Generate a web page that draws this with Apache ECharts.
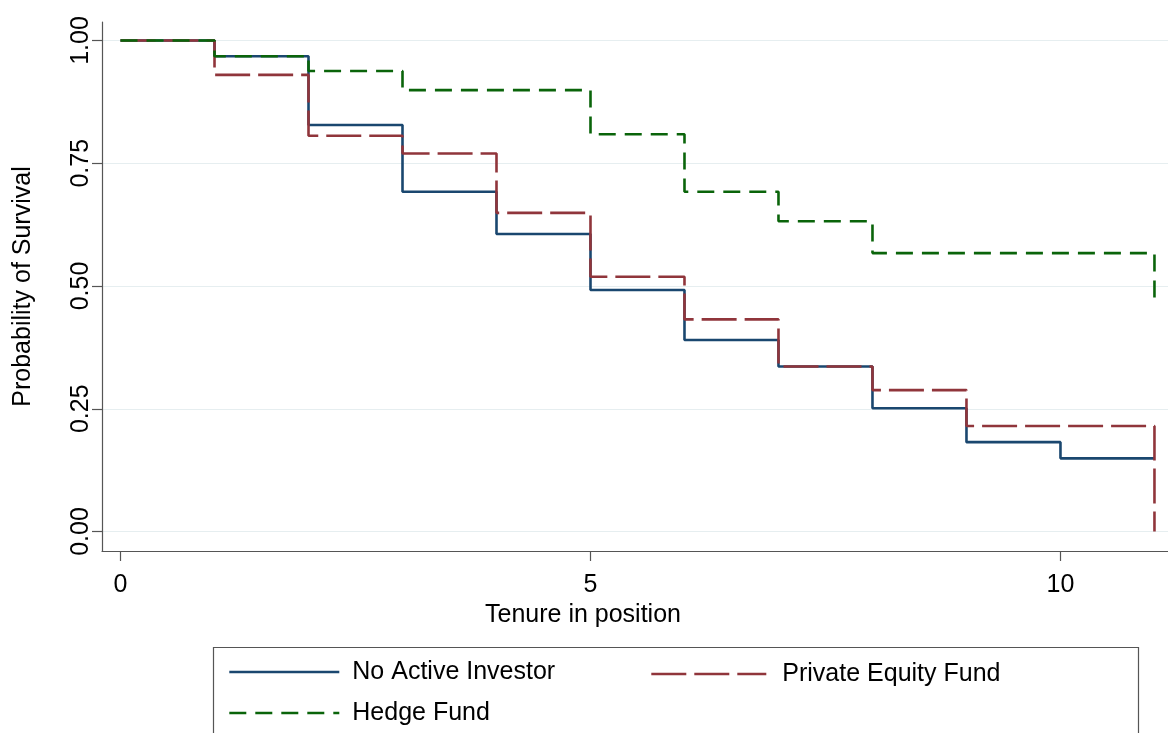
<!DOCTYPE html>
<html>
<head>
<meta charset="utf-8">
<script src="https://cdn.jsdelivr.net/npm/echarts@6/dist/echarts.min.js"></script>
<style>
html,body{margin:0;padding:0;background:#fff;}
#chart{width:1168px;height:733px;}
</style>
</head>
<body>
<div id="chart"></div>
<script>
// Kaplan-Meier step data (tenure in years, survival probability)
const noActiveTime = [0, 1, 2, 3, 4, 5, 6, 7, 8, 9, 10, 11];
const noActiveSurv = [1.00, 0.968, 0.828, 0.692, 0.606, 0.492, 0.390, 0.336, 0.251, 0.182, 0.149, 0.149];

const privateEqTime = [0, 1, 2, 3, 4, 5, 6, 7, 8, 9, 11, 11];
const privateEqSurv = [1.00, 0.930, 0.806, 0.770, 0.649, 0.519, 0.432, 0.336, 0.288, 0.215, 0.215, 0.0];

const hedgeTime = [0, 1, 2, 3, 5, 6, 7, 8, 11, 11];
const hedgeSurv = [1.00, 0.968, 0.938, 0.899, 0.809, 0.692, 0.632, 0.567, 0.567, 0.476];

const xTicks = [0, 5, 10];
const yTicks = [0, 0.25, 0.5, 0.75, 1];
const seriesNames = ['No Active Investor', 'Private Equity Fund', 'Hedge Fund'];

const zip = (t, v) => t.map((x, i) => [x, v[i]]);
const FONT = 'Liberation Sans, Arial, sans-serif';

const chart = echarts.init(document.getElementById('chart'), null, {renderer: 'canvas'});
chart.setOption({
  animation: false,
  backgroundColor: '#ffffff',
  grid: {left: 102, top: 22, right: 0, bottom: 182, containLabel: false},
  xAxis: {
    type: 'value', min: -0.197, max: 11.144,
    name: 'Tenure in position', nameLocation: 'middle', nameGap: 44,
    nameTextStyle: {fontFamily: FONT, fontSize: 25, color: '#000', padding: [0, 104, 0, 0]},
    axisLine: {show: true, onZero: false, lineStyle: {color: '#555', width: 1.2}},
    axisTick: {show: true, length: 10, customValues: xTicks, lineStyle: {color: '#555', width: 1.2}},
    axisLabel: {customValues: xTicks, fontFamily: FONT, fontSize: 25, color: '#000', margin: 22},
    splitLine: {show: false}
  },
  yAxis: {
    type: 'value', min: -0.0397, max: 1.0377,
    name: 'Probability of Survival', nameLocation: 'middle', nameGap: 66,
    nameTextStyle: {fontFamily: FONT, fontSize: 25, color: '#000'},
    axisLine: {show: true, onZero: false, lineStyle: {color: '#555', width: 1.2}},
    axisTick: {show: true, length: 10, customValues: yTicks, lineStyle: {color: '#555', width: 1.2}},
    axisLabel: {customValues: yTicks, rotate: 90, fontFamily: FONT, fontSize: 25, color: '#000', margin: 8,
      formatter: v => v.toFixed(2)},
    splitLine: {show: true, lineStyle: {color: '#e6eef0', width: 1.2}}
  },
  legend: [
    {
      data: [seriesNames[0], seriesNames[2]], orient: 'vertical', left: 228, top: 657, padding: 0,
      itemWidth: 110, itemHeight: 14, itemGap: 11,
      itemStyle: {opacity: 0},
      lineStyle: {width: 2.6},
      textStyle: {fontFamily: FONT, fontSize: 25, color: '#000', lineHeight: 30, padding: [0, 0, 0, 8]}
    },
    {
      data: [seriesNames[1]], orient: 'vertical', left: 650, top: 659, padding: 0,
      itemWidth: 115, itemHeight: 14,
      itemStyle: {opacity: 0},
      lineStyle: {width: 2.6},
      textStyle: {fontFamily: FONT, fontSize: 25, color: '#000', lineHeight: 30, padding: [0, 0, 0, 11]}
    }
  ],
  graphic: [{
    type: 'rect', left: 211, top: 645, z: -1,
    shape: {width: 925, height: 120},
    style: {fill: 'none', stroke: '#555', lineWidth: 1.2}
  }],
  series: [
    {
      name: seriesNames[0], type: 'line', step: 'end', symbol: 'none', z: 3,
      data: zip(noActiveTime, noActiveSurv),
      lineStyle: {color: '#1a476f', width: 2.6, type: 'solid'},
      itemStyle: {color: '#1a476f'}
    },
    {
      name: seriesNames[1], type: 'line', step: 'end', symbol: 'none', z: 4,
      data: zip(privateEqTime, privateEqSurv),
      lineStyle: {color: '#90353b', width: 2.6, type: [35, 8]},
      itemStyle: {color: '#90353b'}
    },
    {
      name: seriesNames[2], type: 'line', step: 'end', symbol: 'none', z: 5,
      data: zip(hedgeTime, hedgeSurv),
      lineStyle: {color: '#0a640a', width: 2.6, type: [17, 9]},
      itemStyle: {color: '#0a640a'}
    }
  ]
});
</script>
</body>
</html>
